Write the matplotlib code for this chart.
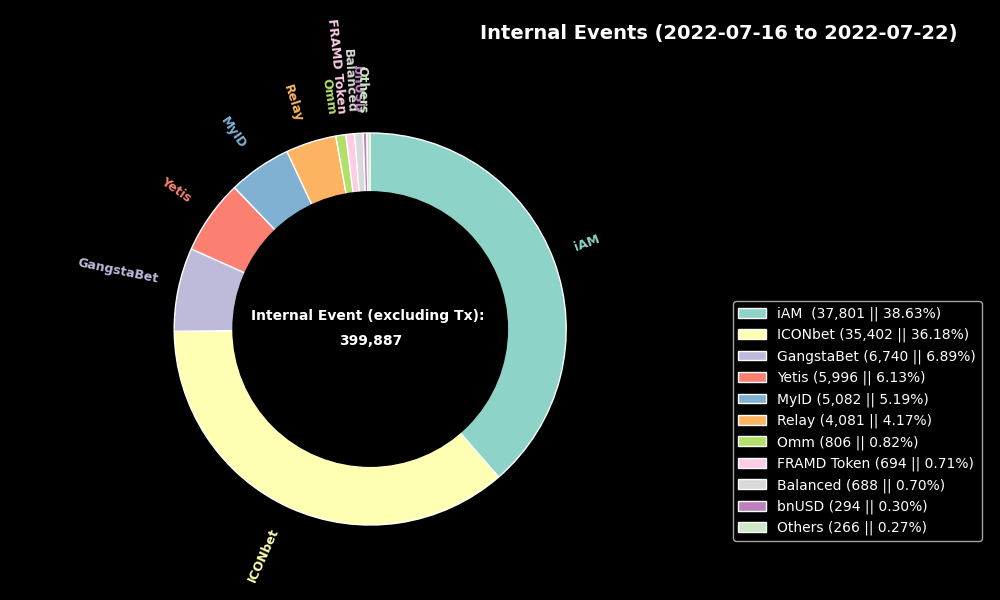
import matplotlib
matplotlib.use("Agg")
import matplotlib.pyplot as plt

# datos
names = ["iAM", "ICONbet", "GangstaBet", "Yetis", "MyID", "Relay", "Omm",
         "FRAMD Token", "Balanced", "bnUSD", "Others"]
values = [37801, 35402, 6740, 5996, 5082, 4081, 806, 694, 688, 294, 266]
percents = ["38.63", "36.18", "6.89", "6.13", "5.19", "4.17", "0.82",
            "0.71", "0.70", "0.30", "0.27"]
total_events = "399,887"

plt.style.use("dark_background")
colors = plt.get_cmap("Set3").colors

fig = plt.figure(figsize=(10, 6), dpi=100)
ax = fig.add_axes([0.0002, 0.0433, 0.74, 0.8167])

wedges, texts = ax.pie(values, labels=names, colors=colors, startangle=90,
                       counterclock=False, radius=1.0, labeldistance=1.1,
                       rotatelabels=True,
                       wedgeprops=dict(edgecolor="white", linewidth=1),
                       textprops=dict(fontsize=9, fontweight="bold"))
for t, w in zip(texts, wedges):
    t.set_color(w.get_facecolor())

# circulo negro del centro
ax.add_artist(plt.Circle((0, 0), 0.7, color="black", zorder=5))

ax.set_xlim(-1.25, 1.25)
ax.set_ylim(-1.25, 1.25)

# texto del centro
ax.text(-0.0125, 0.065, "Internal Event (excluding Tx):", color="white",
        fontsize=10, fontweight="bold", ha="center", va="center", zorder=6)
ax.text(0.004, -0.06, total_events, color="white",
        fontsize=10, fontweight="bold", ha="center", va="center", zorder=6)

fig.text(0.7192, 0.945, "Internal Events (2022-07-16 to 2022-07-22)", color="white",
         fontsize=14, fontweight="bold", ha="center", va="center")

labels = []
for i in range(len(names)):
    sep = "  " if i == 0 else " "
    labels.append(f"{names[i]}{sep}({values[i]:,} || {percents[i]}%)")

fig.legend(wedges, labels, loc="lower right", bbox_to_anchor=(0.9815, 0.0983),
           borderaxespad=0, fontsize=10)

fig.savefig("out.png", dpi=100)
